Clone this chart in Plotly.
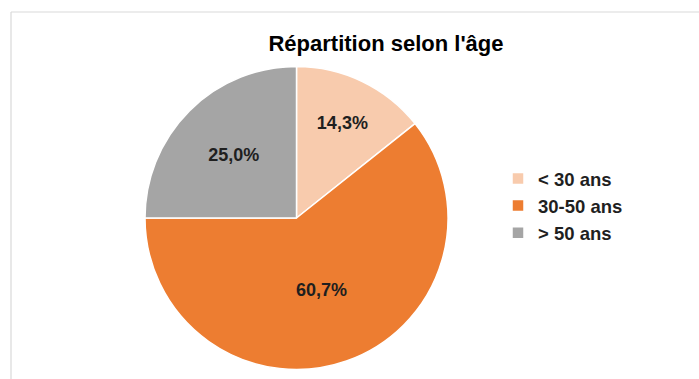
import plotly.graph_objects as go

W, H = 699, 379

# Age distribution
categories = ["< 30 ans", "30-50 ans", "> 50 ans"]
shares = [14.3, 60.7, 25.0]
slice_colors = ["#F8CBAD", "#ED7D31", "#A5A5A5"]

title_text = "Répartition selon l'âge"
FONT = "Liberation Sans, Arial, sans-serif"

# pie geometry in pixels
cx, cy, r = 296.5, 218, 151.5

fig = go.Figure(
    go.Pie(
        labels=[f"<b>{c}</b>" for c in categories],
        values=shares,
        sort=False,
        direction="clockwise",
        rotation=0,
        marker=dict(colors=slice_colors, line=dict(color="white", width=1.5)),
        texttemplate="<b>%{percent:.1%}</b>",
        textposition="inside",
        insidetextorientation="horizontal",
        textfont=dict(family=FONT, size=18, color="#1f1f1f"),
        domain=dict(
            x=[(cx - r) / W, (cx + r) / W],
            y=[(H - cy - r) / H, (H - cy + r) / H],
        ),
        hoverinfo="label+percent",
    )
)

fig.update_layout(
    width=W,
    height=H,
    margin=dict(l=0, r=0, t=0, b=0),
    paper_bgcolor="white",
    plot_bgcolor="white",
    separators=",.",
    title=dict(
        text=f"<b>{title_text}</b>",
        x=386 / W,
        xanchor="center",
        y=1 - 43 / H,
        yanchor="middle",
        font=dict(family=FONT, size=22, color="#000000"),
    ),
    legend=dict(
        x=498 / W,
        xanchor="left",
        y=1 - 206 / H,
        yanchor="middle",
        font=dict(family=FONT, size=18.5, color="#1f1f1f"),
        itemwidth=30,
        tracegroupgap=0,
        bgcolor="rgba(0,0,0,0)",
    ),
    showlegend=True,
    shapes=[
        dict(type="line", xref="paper", yref="paper",
             x0=11 / W, x1=1.0, y0=1 - 12 / H, y1=1 - 12 / H,
             line=dict(color="#D9D9D9", width=1.2)),
        dict(type="line", xref="paper", yref="paper",
             x0=11 / W, x1=11 / W, y0=0, y1=1 - 12 / H,
             line=dict(color="#D9D9D9", width=1.2)),
    ],
)

fig.write_html("out.html")
